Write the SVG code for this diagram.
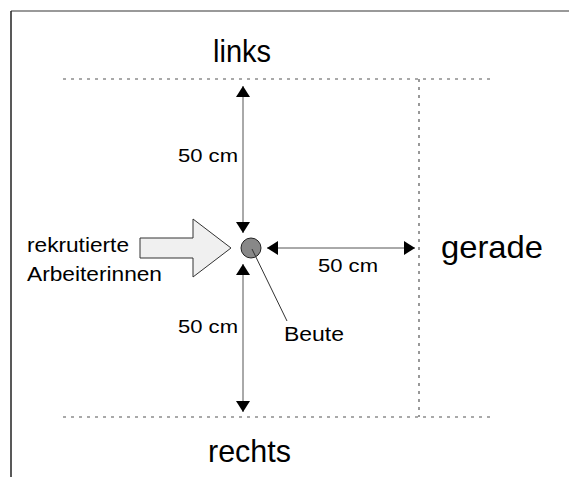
<svg xmlns="http://www.w3.org/2000/svg" width="569" height="477" viewBox="0 0 569 477">
  <defs>
    <marker id="tip" viewBox="0 0 11 14" refX="11" refY="7" markerWidth="11" markerHeight="14" markerUnits="userSpaceOnUse" orient="auto-start-reverse">
      <path d="M0,0 L11,7 L0,14 Z" fill="#000"/>
    </marker>
    <style>
      .frame-top { stroke: #777; stroke-width: 1.5; fill: none; }
      .frame-left { stroke: #222; stroke-width: 1.5; fill: none; }
      .bound { stroke: #555; stroke-width: 1.2; stroke-dasharray: 3 5; fill: none; }
      .dim { stroke: #555; stroke-width: 1; fill: none; marker-start: url(#tip); marker-end: url(#tip); }
      .lead { stroke: #333; stroke-width: 1; fill: none; }
      text { font-family: "Liberation Sans", Arial, sans-serif; fill: #000; }
      .big { font-size: 32px; }
      .mid { font-size: 20px; }
      .small { font-size: 18px; }
    </style>
  </defs>

  <rect width="569" height="477" fill="#fff"/>

  <!-- page frame -->
  <line class="frame-top" x1="11" y1="11" x2="569" y2="11"/>
  <line class="frame-left" x1="11" y1="11" x2="11" y2="477"/>

  <!-- search area boundaries -->
  <g id="boundaries">
    <line class="bound" x1="63" y1="79" x2="495" y2="79"/>
    <line class="bound" x1="63" y1="417" x2="495" y2="417"/>
    <line class="bound" x1="419" y1="79" x2="419" y2="417"/>
  </g>

  <!-- direction labels -->
  <g id="links"><text class="big" x="213" y="62" textLength="58" lengthAdjust="spacingAndGlyphs">links</text></g>
  <g id="gerade"><text class="big" x="441" y="258" textLength="102" lengthAdjust="spacingAndGlyphs">gerade</text></g>
  <g id="rechts"><text class="big" x="208" y="462" textLength="83" lengthAdjust="spacingAndGlyphs">rechts</text></g>

  <!-- recruited workers arrow -->
  <g id="workers">
    <path d="M140,238 L193,238 L193,219 L231,248 L193,277 L193,258 L140,258 Z" fill="#f0f0f0" stroke="#333" stroke-width="1"/>
    <text class="mid" x="27" y="252" textLength="102" lengthAdjust="spacingAndGlyphs">rekrutierte</text>
    <text class="mid" x="27" y="281" textLength="135" lengthAdjust="spacingAndGlyphs">Arbeiterinnen</text>
  </g>

  <!-- prey item -->
  <g id="prey">
    <circle cx="251" cy="248" r="10" fill="#888" stroke="#222" stroke-width="1"/>
    <text class="mid" x="284" y="341" textLength="60" lengthAdjust="spacingAndGlyphs">Beute</text>
  </g>

  <!-- distance arrows and leader -->
  <g id="connectors">
    <line class="dim" x1="243" y1="86" x2="243" y2="233"/>
    <line class="dim" x1="243" y1="264" x2="243" y2="412"/>
    <line class="dim" x1="267" y1="248" x2="415" y2="248"/>
    <line class="lead" x1="252" y1="249" x2="287" y2="321"/>
  </g>

  <!-- distance labels -->
  <g id="dist-left"><text class="small" x="178" y="162" textLength="60" lengthAdjust="spacingAndGlyphs">50 cm</text></g>
  <g id="dist-front"><text class="small" x="318" y="272" textLength="60" lengthAdjust="spacingAndGlyphs">50 cm</text></g>
  <g id="dist-right"><text class="small" x="178" y="333" textLength="60" lengthAdjust="spacingAndGlyphs">50 cm</text></g>
</svg>
